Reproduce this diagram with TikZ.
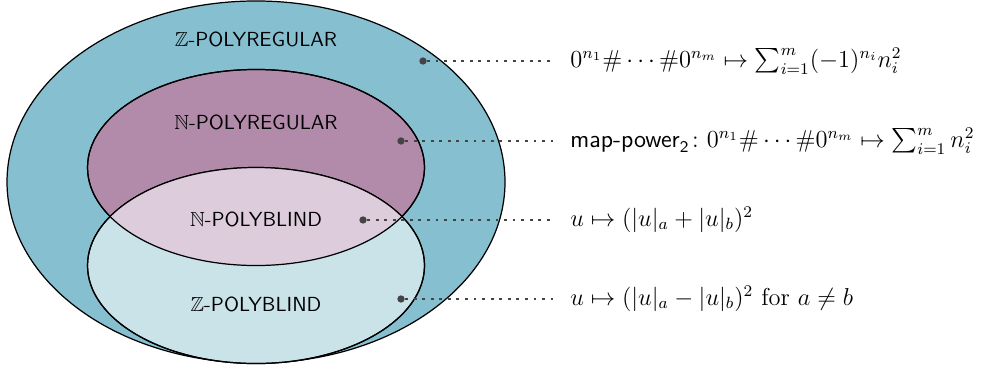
\documentclass[tikz,border=0pt]{standalone}
\usepackage{amsmath, amssymb}
\usepackage{tikz}
\usetikzlibrary{positioning, calc}
\definecolor{ZRegC}{RGB}{134,191,207}
\definecolor{NRegC}{RGB}{178,139,170}
\definecolor{NBlindC}{RGB}{221,204,219}
\definecolor{ZBlindC}{RGB}{201,227,233}
\definecolor{PinC}{RGB}{68,68,68}
\tikzset{
  region/.style={draw=black, line width=0.6pt},
  setlabel/.style={font=\sffamily},
  pin/.style={circle, fill=PinC, inner sep=0pt, minimum size=3.6pt},
  link/.style={draw=PinC, line width=1.4pt, dash pattern=on 1.4pt off 2.8pt,
               shorten >=8pt},
  desc/.style={anchor=base west, inner sep=0pt, yshift=-3pt, font=\large},
}

\begin{document}
\begin{tikzpicture}
    \useasboundingbox (-4.414,-3.224) rectangle (12.655,3.138);
    %% the four classes
    \draw[region, fill=ZRegC] (0,0) ellipse [x radius=4.293, y radius=3.121];
    \draw[region, fill=NRegC] (0,0.25) ellipse [x radius=2.905, y radius=1.69];
    \draw[region, fill=ZBlindC] (0,-1.44) ellipse [x radius=2.905, y radius=1.69];
    \begin{scope}
      \clip (0,0.25) ellipse [x radius=2.905, y radius=1.69];
      \fill[NBlindC] (0,-1.44) ellipse [x radius=2.905, y radius=1.69];
    \end{scope}
    \draw[region] (0,0.25) ellipse [x radius=2.905, y radius=1.69];
    \draw[region] (0,-1.44) ellipse [x radius=2.905, y radius=1.69];
    %% names
    \node[setlabel] (zreg) at (0,2.45) {$\mathbb{Z}$-POLYREGULAR};
    \node[setlabel] (nreg) at (0,1.02) {$\mathbb{N}$-POLYREGULAR};
    \node[setlabel] (nblind) at (0,-0.64) {$\mathbb{N}$-POLYBLIND};
    \node[setlabel] (zblind) at (0,-2.11) {$\mathbb{Z}$-POLYBLIND};
    %% examples
    \foreach \n/\x/\y in {pZR/2.879/2.086, pNR/2.5/0.707,
                          pNB/1.845/-0.655, pZB/2.5/-2.017}{
      \node[pin] (\n) at (\x,\y) {};
    }
    \node[desc] (tZR) at (5.414,2.086)
      {$0^{n_1}\#\cdots\#0^{n_m} \mapsto \sum_{i=1}^{m}(-1)^{n_i}n_i^2$};
    \node[desc] (tNR) at (5.414,0.707)
      {$\textsf{map-power}_{\textsf{2}}\colon 0^{n_1}\#\cdots\#0^{n_m} \mapsto \sum_{i=1}^{m}n_i^2$};
    \node[desc] (tNB) at (5.414,-0.655)
      {$u \mapsto (|u|_a+|u|_b)^2$};
    \node[desc] (tZB) at (5.414,-2.017)
      {$u \mapsto (|u|_a-|u|_b)^2$ for $a \neq b$};
    \foreach \n in {ZR,NR,NB,ZB}{
      \draw[link] (p\n) -- (p\n -| t\n.west);
    }
\end{tikzpicture}
\end{document}
